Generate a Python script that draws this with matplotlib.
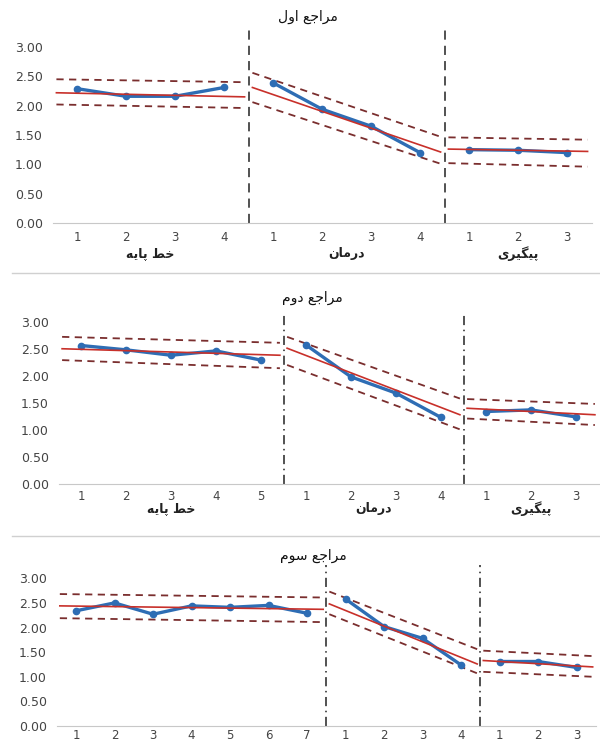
import matplotlib
matplotlib.use("Agg")
import matplotlib.pyplot as plt
from matplotlib.lines import Line2D
import numpy as np

# -----------------------
# DATA
# -----------------------
titles = ["مراجع اول", "مراجع دوم", "مراجع سوم"]
phase_names = ["خط پایه", "درمان", "پیگیری"]

# panel 1
p1_base = [2.29, 2.16, 2.16, 2.31]
p1_treat = [2.39, 1.94, 1.65, 1.20]
p1_follow = [1.25, 1.24, 1.20]
p1_trend = [(2.22, 2.15), (2.31, 1.21), (1.26, 1.22)]
p1_upper = [(2.45, 2.40), (2.56, 1.47), (1.46, 1.42)]
p1_lower = [(2.02, 1.96), (2.06, 1.01), (1.02, 0.96)]

# panel 2
p2_base = [2.56, 2.48, 2.38, 2.46, 2.29]
p2_treat = [2.57, 1.98, 1.68, 1.23]
p2_follow = [1.34, 1.37, 1.24]
p2_trend = [(2.50, 2.38), (2.51, 1.28), (1.40, 1.28)]
p2_upper = [(2.72, 2.61), (2.72, 1.58), (1.57, 1.48)]
p2_lower = [(2.29, 2.14), (2.20, 1.01), (1.21, 1.09)]

# panel 3
p3_base = [2.34, 2.50, 2.27, 2.44, 2.41, 2.45, 2.29]
p3_treat = [2.58, 2.02, 1.78, 1.24]
p3_follow = [1.31, 1.31, 1.19]
p3_trend = [(2.44, 2.37), (2.48, 1.26), (1.33, 1.20)]
p3_upper = [(2.68, 2.61), (2.73, 1.56), (1.53, 1.42)]
p3_lower = [(2.19, 2.11), (2.27, 1.07), (1.10, 1.00)]

y_ticks = [0.0, 0.5, 1.0, 1.5, 2.0, 2.5, 3.0]

# -----------------------
# SIMPLE ARABIC SHAPING (no reshaper available)
# -----------------------
FORMS = {
    'ا': (0xFE8D, 0xFE8E, None, None),
    'د': (0xFEA9, 0xFEAA, None, None),
    'ر': (0xFEAD, 0xFEAE, None, None),
    'و': (0xFEED, 0xFEEE, None, None),
    'ج': (0xFE9D, 0xFE9E, 0xFE9F, 0xFEA0),
    'خ': (0xFEA5, 0xFEA6, 0xFEA7, 0xFEA8),
    'س': (0xFEB1, 0xFEB2, 0xFEB3, 0xFEB4),
    'ط': (0xFEC1, 0xFEC2, 0xFEC3, 0xFEC4),
    'ع': (0xFEC9, 0xFECA, 0xFECB, 0xFECC),
    'ل': (0xFEDD, 0xFEDE, 0xFEDF, 0xFEE0),
    'م': (0xFEE1, 0xFEE2, 0xFEE3, 0xFEE4),
    'ن': (0xFEE5, 0xFEE6, 0xFEE7, 0xFEE8),
    'ه': (0xFEE9, 0xFEEA, 0xFEEB, 0xFEEC),
    'پ': (0xFB56, 0xFB57, 0xFB58, 0xFB59),
    'گ': (0xFB92, 0xFB93, 0xFB94, 0xFB95),
    '\u06cc': (0xFBFC, 0xFBFD, 0xFBFE, 0xFBFF),
}


def shape(text):
    text = text.replace('\u064a', '\u06cc')
    out = []
    for i, ch in enumerate(text):
        if ch not in FORMS:
            out.append(ch)
            continue
        iso, fin, ini, med = FORMS[ch]
        prev = text[i - 1] if i > 0 else ''
        nxt = text[i + 1] if i + 1 < len(text) else ''
        join_prev = prev in FORMS and FORMS[prev][2] is not None
        join_next = ini is not None and nxt in FORMS
        if join_prev and join_next:
            c = med
        elif join_prev:
            c = fin
        elif join_next:
            c = ini
        else:
            c = iso
        out.append(chr(c))
    return ''.join(reversed(out))


# -----------------------
# STYLE
# -----------------------
BLUE = "#2e6db4"
RED = "#c8302a"
BAND = "#7a2e2e"
PAD = 0.42

plt.rcParams['font.family'] = ['DejaVu Sans']

fig = plt.figure(figsize=(6, 7.45), dpi=100)

# rect = (left, top, right, bottom) in pixels, px3 = pixels for 3.00 units
panels = [
    dict(data=[p1_base, p1_treat, p1_follow], trend=p1_trend, upper=p1_upper,
         lower=p1_lower, rect=(52.5, 28, 591.5, 223), px3=176.0,
         vstyle=(0, (6, 4)), title_xy=(308, 17), labels=True,
         label_y=-0.155, tick_pad=6),
    dict(data=[p2_base, p2_treat, p2_follow], trend=p2_trend, upper=p2_upper,
         lower=p2_lower, rect=(58.5, 312, 598.5, 484), px3=162.3,
         vstyle=(0, (6, 3, 1, 3)), title_xy=(312, 298), labels=True,
         label_y=-0.145, tick_pad=4),
    dict(data=[p3_base, p3_treat, p3_follow], trend=p3_trend, upper=p3_upper,
         lower=p3_lower, rect=(56.75, 565, 595.75, 726), px3=147.7,
         vstyle=(0, (6, 3, 1, 3)), title_xy=(313, 556), labels=False,
         label_y=0, tick_pad=2.5),
]

W, H = 600.0, 745.0

for k, p in enumerate(panels):
    x0, yt, x1, yb = p["rect"]
    ax = fig.add_axes([x0 / W, 1 - yb / H, (x1 - x0) / W, (yb - yt) / H])
    groups = p["data"]
    n = sum(len(g) for g in groups)
    start = 0
    tick_labels = []
    for gi, vals in enumerate(groups):
        xs = np.arange(start, start + len(vals))
        # control bands and trend line
        xl, xr = xs[0] - PAD, xs[-1] + PAD
        ax.plot([xl, xr], p["upper"][gi], color=BAND, lw=1.3, ls=(0, (4, 3)))
        ax.plot([xl, xr], p["lower"][gi], color=BAND, lw=1.3, ls=(0, (4, 3)))
        ax.plot(xs, vals, color=BLUE, lw=2.4, marker='o', ms=4.5, zorder=3)
        ax.plot([xl, xr], p["trend"][gi], color=RED, lw=1.2, zorder=4)
        tick_labels += [str(i + 1) for i in range(len(vals))]
        if p["labels"]:
            ax.text(xs.mean(), p["label_y"], shape(phase_names[gi]),
                    transform=ax.get_xaxis_transform(), ha="center",
                    va="center", fontsize=9, fontweight="bold", color="#222222")
        if gi < 2:
            ax.axvline(start + len(vals) - 0.5, color="#222222", lw=1.1,
                       ls=p["vstyle"])
        start += len(vals)

    ax.set_xlim(-0.5, n - 0.5)
    ax.set_ylim(0, 3.0 * (yb - yt) / p["px3"])
    ax.set_yticks(y_ticks)
    ax.set_yticklabels([f"{v:.2f}" for v in y_ticks])
    ax.set_xticks(np.arange(n))
    ax.set_xticklabels(tick_labels)
    ax.tick_params(axis="y", length=0, labelsize=9, labelcolor="#444444", pad=7)
    ax.tick_params(axis="x", length=0, labelsize=8.5, labelcolor="#444444",
                   pad=p["tick_pad"])
    for s in ["top", "right", "left"]:
        ax.spines[s].set_visible(False)
    ax.spines["bottom"].set_color("#c8c8c8")
    ax.patch.set_alpha(0)

    tx, ty = p["title_xy"]
    fig.text(tx / W, 1 - ty / H, shape(titles[k]), ha="center", va="center",
             fontsize=10, color="#111111")

# separators between the three charts
for y in [273, 536]:
    fig.add_artist(Line2D([12 / W, 1.0], [1 - y / H, 1 - y / H],
                          color="#d0d0d0", lw=1.0))

fig.savefig("out.png", dpi=100)
